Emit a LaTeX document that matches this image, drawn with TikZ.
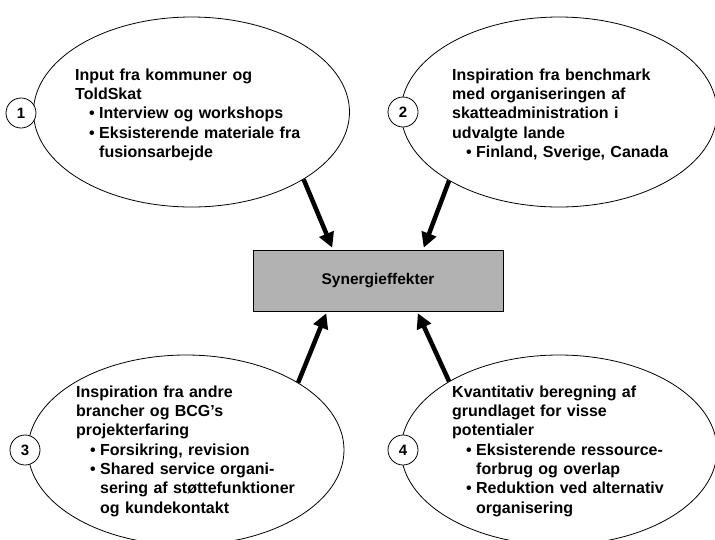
\documentclass[tikz,border=0pt]{standalone}
\usepackage{fontspec}
\setmainfont{Liberation Sans}
\usepackage{tikz}
\usetikzlibrary{positioning,shapes.geometric,arrows.meta}

\definecolor{boxgray}{gray}{0.7}
\newcommand{\bulletpt}{\hspace*{14pt}\makebox[10pt][l]{•}}
\newcommand{\indentpt}{\hspace*{24pt}}

\begin{document}
\begin{tikzpicture}[x=1pt, y=-1pt,
        bubble/.style={ellipse, draw, line width=0.8pt, minimum width=316pt, minimum height=190pt, inner sep=0pt},
        num/.style={circle, draw, line width=0.8pt, fill=white, minimum size=30pt, inner sep=0pt, font=\bfseries\fontsize{15}{18}\selectfont},
        txt/.style={anchor=north west, inner sep=0pt, text width=265pt, align=left, font=\bfseries\fontsize{16}{19.3}\selectfont},
        feed/.style={-{Triangle[length=15pt, width=15pt]}, line width=4.5pt, shorten >=2pt}]
        \useasboundingbox (0,0) rectangle (715,539);

        % the four sources
        \node (e1) [bubble] at (191.5,112) {};
        \node (e2) [bubble] at (559,112) {};
        \node (e3) [bubble] at (186,450) {};
        \node (e4) [bubble] at (559,450) {};

        \node (n1) [num] at (21,113) {1};
        \node (n2) [num] at (403,112) {2};
        \node (n3) [num] at (25,450) {3};
        \node (n4) [num] at (403,450) {4};

        \node (t1) [txt] at (75,68.5) {Input fra kommuner og\\ ToldSkat\\ \bulletpt Interview og workshops\\ \bulletpt Eksisterende materiale fra\\ \indentpt fusionsarbejde};
        \node (t2) [txt] at (452,68.5) {Inspiration fra benchmark\\ med organiseringen af\\ skatteadministration i\\ udvalgte lande\\ \bulletpt Finland, Sverige, Canada};
        \node (t3) [txt] at (76,385.5) {Inspiration fra andre\\ brancher og BCG's\\ projekterfaring\\ \bulletpt Forsikring, revision\\ \bulletpt Shared service organi-\\ \indentpt sering af støttefunktioner\\ \indentpt og kundekontakt};
        \node (t4) [txt] at (452,385.5) {Kvantitativ beregning af\\ grundlaget for visse\\ potentialer\\ \bulletpt Eksisterende ressource-\\ \indentpt forbrug og overlap\\ \bulletpt Reduktion ved alternativ\\ \indentpt organisering};

        % centre
        \node (box) [rectangle, draw, line width=0.8pt, fill=boxgray, minimum width=250pt, minimum height=61pt, font=\bfseries\fontsize{15.5}{18}\selectfont] at (378,280.5) {Synergieffekter};

        \draw[feed] (e1.-31) -- ([xshift=-45pt]box.north);
        \draw[feed] (e2.212) -- ([xshift=45pt]box.north);
        \draw[feed] (e3.31) -- ([xshift=-51pt]box.south);
        \draw[feed] (e4.148) -- ([xshift=39pt]box.south);
    \end{tikzpicture}
\end{document}
